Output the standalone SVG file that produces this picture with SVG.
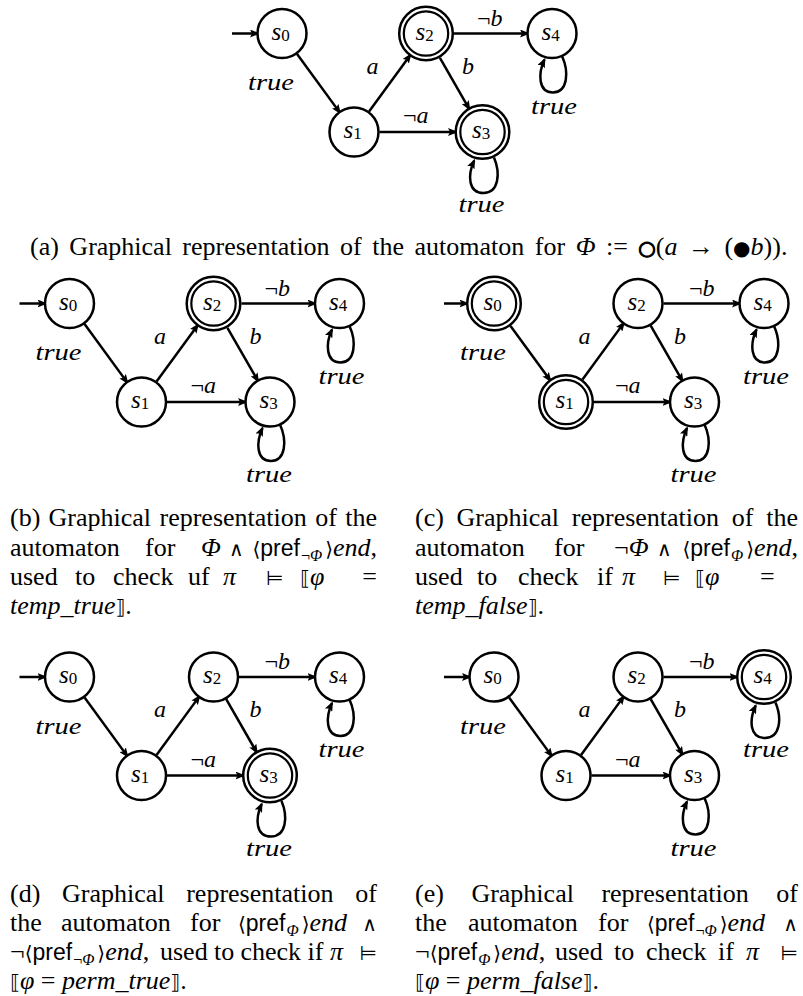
<svg xmlns="http://www.w3.org/2000/svg" width="803" height="996" viewBox="0 0 803 996">
<defs>
<marker id="ah" markerUnits="userSpaceOnUse" viewBox="0 0 10 8" markerWidth="10" markerHeight="8" refX="8" refY="4" orient="auto">
<path d="M0,0 L10,4 L0,8 L2,4 Z" fill="#000"/>
</marker>
<style>
.st{fill:#fff;stroke:#000;stroke-width:2.5}
.dbl{fill:none;stroke:#000;stroke-width:2.2}
.e{fill:none;stroke:#000;stroke-width:2.5;marker-end:url(#ah)}
.m{font-family:"Liberation Serif","DejaVu Serif",serif;font-style:italic;font-size:24px;fill:#000}
.n{font-style:normal}
.nl{font-family:"Liberation Serif","DejaVu Serif",serif;font-style:italic;font-size:25px;fill:#000}
.sub{font-style:normal;font-size:17px}
.cap{font-family:"Liberation Serif","DejaVu Serif","DejaVu Sans",serif;font-size:26px;fill:#000}
.i{font-style:italic}
.sf{font-family:"Liberation Sans","DejaVu Sans",sans-serif;font-size:23px;font-style:normal}
.sy{font-family:"DejaVu Sans",sans-serif;font-size:20px;font-style:normal}
.sb{font-size:16px}
.r{text-anchor:end}
</style>
</defs>
<rect width="803" height="996" fill="#fff"/>

<!-- (a) -->
<g id="diagram-a" transform="translate(282 33.5)">
<g id="a-connectors">
<path class="e" d="M-50,0 H-24"/>
<path class="e" d="M15.05,20.59 L57.84,79.12"/>
<path class="e" d="M87.05,77.91 L128.36,21.4"/>
<path class="e" d="M157.93,24.29 L187.31,75.51"/>
<path class="e" d="M97.5,98.5 H174"/>
<path class="e" d="M172,0 H246"/>
<path class="e" transform="translate(270 0)" d="M10,22.5 C17,38 16,59 1,59 C-14,59 -14,40 -7.5,26"/>
<path class="e" transform="translate(200.5 98.5)" d="M11.5,25.5 C18,41 16.5,61 1,61 C-14.5,61 -15,43 -8.3,28.5"/>
<text class="m" x="-34" y="56.7" textLength="46" lengthAdjust="spacingAndGlyphs">true</text>
<text class="m" x="90.5" y="40" text-anchor="middle">a</text>
<text class="m" x="186" y="40" text-anchor="middle">b</text>
<text class="m" x="195" y="-8"><tspan class="n">¬</tspan>b</text>
<text class="m" x="121" y="89.5"><tspan class="n">¬</tspan>a</text>
<text class="m" x="249" y="80" textLength="46" lengthAdjust="spacingAndGlyphs">true</text>
<text class="m" x="176.5" y="178.5" textLength="46" lengthAdjust="spacingAndGlyphs">true</text>
</g>
<g id="a-s0"><circle class="st" r="24.5"/><text class="nl" x="-10.5" y="6">s<tspan class="sub" dy="1">0</tspan></text></g>
<g id="a-s1" transform="translate(72 98.5)"><circle class="st" r="24.5"/><text class="nl" x="-10.5" y="6">s<tspan class="sub" dy="1">1</tspan></text></g>
<g id="a-s2" transform="translate(144 0)"><circle class="st" r="26.8"/><circle class="dbl" r="22.2"/><text class="nl" x="-10.5" y="6">s<tspan class="sub" dy="1">2</tspan></text></g>
<g id="a-s3" transform="translate(200.5 98.5)"><circle class="st" r="26.8"/><circle class="dbl" r="22.2"/><text class="nl" x="-10.5" y="6">s<tspan class="sub" dy="1">3</tspan></text></g>
<g id="a-s4" transform="translate(270 0)"><circle class="st" r="24.5"/><text class="nl" x="-10.5" y="6">s<tspan class="sub" dy="1">4</tspan></text></g>
</g>
<g id="cap-a" class="cap">
<text x="30" y="255" word-spacing="4">(a) Graphical representation of the automaton for <tspan class="i">Φ</tspan> := <tspan class="sy" font-size="21" stroke="#000" stroke-width="1.1">○</tspan>(<tspan class="i">a</tspan> → (<tspan class="sy" font-size="21">●</tspan><tspan class="i">b</tspan>)).</text>
</g>

<!-- (b) -->
<g id="diagram-b" transform="translate(69.5 303.5)">
<g id="b-connectors">
<path class="e" d="M-50,0 H-24"/>
<path class="e" d="M15.05,20.59 L57.84,79.12"/>
<path class="e" d="M87.05,77.91 L128.36,21.4"/>
<path class="e" d="M157.93,24.29 L188.56,77.68"/>
<path class="e" d="M97.5,98.5 H176.5"/>
<path class="e" d="M172,0 H246"/>
<path class="e" transform="translate(270 0)" d="M10,22.5 C17,38 16,59 1,59 C-14,59 -14,40 -7.5,26"/>
<path class="e" transform="translate(200.5 98.5)" d="M10,22.5 C17,38 16,59 1,59 C-14,59 -14,40 -7.5,26"/>
<text class="m" x="-34" y="56.7" textLength="46" lengthAdjust="spacingAndGlyphs">true</text>
<text class="m" x="90.5" y="40" text-anchor="middle">a</text>
<text class="m" x="186" y="40" text-anchor="middle">b</text>
<text class="m" x="195" y="-8"><tspan class="n">¬</tspan>b</text>
<text class="m" x="121" y="89.5"><tspan class="n">¬</tspan>a</text>
<text class="m" x="249" y="80" textLength="46" lengthAdjust="spacingAndGlyphs">true</text>
<text class="m" x="176.5" y="178.5" textLength="46" lengthAdjust="spacingAndGlyphs">true</text>
</g>
<g id="b-s0"><circle class="st" r="24.5"/><text class="nl" x="-10.5" y="6">s<tspan class="sub" dy="1">0</tspan></text></g>
<g id="b-s1" transform="translate(72 98.5)"><circle class="st" r="24.5"/><text class="nl" x="-10.5" y="6">s<tspan class="sub" dy="1">1</tspan></text></g>
<g id="b-s2" transform="translate(144 0)"><circle class="st" r="26.8"/><circle class="dbl" r="22.2"/><text class="nl" x="-10.5" y="6">s<tspan class="sub" dy="1">2</tspan></text></g>
<g id="b-s3" transform="translate(200.5 98.5)"><circle class="st" r="24.5"/><text class="nl" x="-10.5" y="6">s<tspan class="sub" dy="1">3</tspan></text></g>
<g id="b-s4" transform="translate(270 0)"><circle class="st" r="24.5"/><text class="nl" x="-10.5" y="6">s<tspan class="sub" dy="1">4</tspan></text></g>
</g>
<g id="cap-b" class="cap">
<text y="526"><tspan x="10">(b)</tspan><tspan x="48.6">Graphical</tspan><tspan x="159.5">representation</tspan><tspan x="315.2">of</tspan><tspan x="345.2">the</tspan></text>
<text y="556"><tspan x="10">automaton</tspan><tspan x="145">for</tspan><tspan x="201" class="i">Φ</tspan><tspan x="229" class="sy">∧</tspan></text>
<text y="556" x="377" class="r"><tspan class="sy">⟨</tspan><tspan class="sf">pref</tspan><tspan class="sb" dy="5" dx="1">¬<tspan class="i">Φ</tspan></tspan><tspan class="sy" dy="-5" dx="3">⟩</tspan><tspan class="i">end</tspan>,</text>
<text y="585"><tspan x="10">used</tspan><tspan x="75">to</tspan><tspan x="113">check</tspan><tspan x="188">uf</tspan><tspan x="223" class="i">π</tspan><tspan x="266" class="sy">⊨</tspan><tspan x="300" class="sy">⟦</tspan><tspan class="i">φ</tspan></text>
<text y="585" x="377" class="r">=</text>
<text y="614"><tspan x="10" class="i">temp_true</tspan><tspan class="sy">⟧</tspan>.</text>
</g>

<!-- (c) -->
<g id="diagram-c" transform="translate(494 303.5)">
<g id="c-connectors">
<path class="e" d="M-50,0 H-26.5"/>
<path class="e" d="M16.53,22.61 L56.36,77.1"/>
<path class="e" d="M88.53,75.89 L129.84,19.38"/>
<path class="e" d="M156.69,22.12 L188.56,77.68"/>
<path class="e" d="M100,98.5 H176.5"/>
<path class="e" d="M169.5,0 H246"/>
<path class="e" transform="translate(270 0)" d="M10,22.5 C17,38 16,59 1,59 C-14,59 -14,40 -7.5,26"/>
<path class="e" transform="translate(200.5 98.5)" d="M10,22.5 C17,38 16,59 1,59 C-14,59 -14,40 -7.5,26"/>
<text class="m" x="-34" y="56.7" textLength="46" lengthAdjust="spacingAndGlyphs">true</text>
<text class="m" x="90.5" y="40" text-anchor="middle">a</text>
<text class="m" x="186" y="40" text-anchor="middle">b</text>
<text class="m" x="195" y="-8"><tspan class="n">¬</tspan>b</text>
<text class="m" x="121" y="89.5"><tspan class="n">¬</tspan>a</text>
<text class="m" x="249" y="80" textLength="46" lengthAdjust="spacingAndGlyphs">true</text>
<text class="m" x="176.5" y="178.5" textLength="46" lengthAdjust="spacingAndGlyphs">true</text>
</g>
<g id="c-s0"><circle class="st" r="26.8"/><circle class="dbl" r="22.2"/><text class="nl" x="-10.5" y="6">s<tspan class="sub" dy="1">0</tspan></text></g>
<g id="c-s1" transform="translate(72 98.5)"><circle class="st" r="26.8"/><circle class="dbl" r="22.2"/><text class="nl" x="-10.5" y="6">s<tspan class="sub" dy="1">1</tspan></text></g>
<g id="c-s2" transform="translate(144 0)"><circle class="st" r="24.5"/><text class="nl" x="-10.5" y="6">s<tspan class="sub" dy="1">2</tspan></text></g>
<g id="c-s3" transform="translate(200.5 98.5)"><circle class="st" r="24.5"/><text class="nl" x="-10.5" y="6">s<tspan class="sub" dy="1">3</tspan></text></g>
<g id="c-s4" transform="translate(270 0)"><circle class="st" r="24.5"/><text class="nl" x="-10.5" y="6">s<tspan class="sub" dy="1">4</tspan></text></g>
</g>
<g id="cap-c" class="cap">
<text y="526"><tspan x="415">(c)</tspan><tspan x="456.6">Graphical</tspan><tspan x="571.8">representation</tspan><tspan x="731.8">of</tspan><tspan x="766.2">the</tspan></text>
<text y="556"><tspan x="415">automaton</tspan><tspan x="554">for</tspan><tspan x="614">¬</tspan><tspan class="i">Φ</tspan><tspan x="657" class="sy">∧</tspan></text>
<text y="556" x="798" class="r"><tspan class="sy">⟨</tspan><tspan class="sf">pref</tspan><tspan class="sb i" dy="5" dx="1">Φ</tspan><tspan class="sy" dy="-5" dx="3">⟩</tspan><tspan class="i">end</tspan>,</text>
<text y="585"><tspan x="415">used</tspan><tspan x="477">to</tspan><tspan x="518">check</tspan><tspan x="597">if</tspan><tspan x="622" class="i">π</tspan><tspan x="663" class="sy">⊨</tspan><tspan x="695" class="sy">⟦</tspan><tspan class="i">φ</tspan><tspan x="760">=</tspan></text>
<text y="614"><tspan x="415" class="i">temp_false</tspan><tspan class="sy">⟧</tspan>.</text>
</g>

<!-- (d) -->
<g id="diagram-d" transform="translate(69.5 677)">
<g id="d-connectors">
<path class="e" d="M-50,0 H-24"/>
<path class="e" d="M15.05,20.59 L57.84,79.12"/>
<path class="e" d="M87.05,77.91 L129.84,19.38"/>
<path class="e" d="M156.69,22.12 L187.31,75.51"/>
<path class="e" d="M97.5,98.5 H174"/>
<path class="e" d="M169.5,0 H246"/>
<path class="e" transform="translate(270 0)" d="M10,22.5 C17,38 16,59 1,59 C-14,59 -14,40 -7.5,26"/>
<path class="e" transform="translate(200.5 98.5)" d="M11.5,25.5 C18,41 16.5,61 1,61 C-14.5,61 -15,43 -8.3,28.5"/>
<text class="m" x="-34" y="56.7" textLength="46" lengthAdjust="spacingAndGlyphs">true</text>
<text class="m" x="90.5" y="40" text-anchor="middle">a</text>
<text class="m" x="186" y="40" text-anchor="middle">b</text>
<text class="m" x="195" y="-8"><tspan class="n">¬</tspan>b</text>
<text class="m" x="121" y="89.5"><tspan class="n">¬</tspan>a</text>
<text class="m" x="249" y="80" textLength="46" lengthAdjust="spacingAndGlyphs">true</text>
<text class="m" x="176.5" y="178.5" textLength="46" lengthAdjust="spacingAndGlyphs">true</text>
</g>
<g id="d-s0"><circle class="st" r="24.5"/><text class="nl" x="-10.5" y="6">s<tspan class="sub" dy="1">0</tspan></text></g>
<g id="d-s1" transform="translate(72 98.5)"><circle class="st" r="24.5"/><text class="nl" x="-10.5" y="6">s<tspan class="sub" dy="1">1</tspan></text></g>
<g id="d-s2" transform="translate(144 0)"><circle class="st" r="24.5"/><text class="nl" x="-10.5" y="6">s<tspan class="sub" dy="1">2</tspan></text></g>
<g id="d-s3" transform="translate(200.5 98.5)"><circle class="st" r="26.8"/><circle class="dbl" r="22.2"/><text class="nl" x="-10.5" y="6">s<tspan class="sub" dy="1">3</tspan></text></g>
<g id="d-s4" transform="translate(270 0)"><circle class="st" r="24.5"/><text class="nl" x="-10.5" y="6">s<tspan class="sub" dy="1">4</tspan></text></g>
</g>
<g id="cap-d" class="cap">
<text y="902"><tspan x="10">(d)</tspan><tspan x="62">Graphical</tspan><tspan x="186.2">representation</tspan></text>
<text y="902" x="377" class="r">of</text>
<text y="931"><tspan x="10">the</tspan><tspan x="61">automaton</tspan><tspan x="190">for</tspan><tspan x="238" class="sy">⟨</tspan><tspan class="sf">pref</tspan><tspan class="sb i" dy="5" dx="1">Φ</tspan><tspan class="sy" dy="-5" dx="3">⟩</tspan><tspan class="i">end</tspan></text>
<text y="931" x="377" class="r"><tspan class="sy">∧</tspan></text>
<text y="960"><tspan x="10">¬</tspan><tspan class="sy">⟨</tspan><tspan class="sf">pref</tspan><tspan class="sb" dy="5" dx="1">¬<tspan class="i">Φ</tspan></tspan><tspan class="sy" dy="-5" dx="3">⟩</tspan><tspan class="i">end</tspan>,<tspan x="160">used</tspan><tspan x="214">to</tspan><tspan x="240.5">check</tspan><tspan x="307.5">if</tspan><tspan x="330" class="i">π</tspan></text>
<text y="960" x="377" class="r"><tspan class="sy">⊨</tspan></text>
<text y="989"><tspan x="10" class="sy">⟦</tspan><tspan class="i">φ</tspan> = <tspan class="i">perm_true</tspan><tspan class="sy">⟧</tspan>.</text>
</g>

<!-- (e) -->
<g id="diagram-e" transform="translate(494 677)">
<g id="e-connectors">
<path class="e" d="M-50,0 H-24"/>
<path class="e" d="M15.05,20.59 L57.84,79.12"/>
<path class="e" d="M87.05,77.91 L129.84,19.38"/>
<path class="e" d="M156.69,22.12 L188.56,77.68"/>
<path class="e" d="M97.5,98.5 H176.5"/>
<path class="e" d="M169.5,0 H243.5"/>
<path class="e" transform="translate(270 0)" d="M11.5,25.5 C18,41 16.5,61 1,61 C-14.5,61 -15,43 -8.3,28.5"/>
<path class="e" transform="translate(200.5 98.5)" d="M10,22.5 C17,38 16,59 1,59 C-14,59 -14,40 -7.5,26"/>
<text class="m" x="-34" y="56.7" textLength="46" lengthAdjust="spacingAndGlyphs">true</text>
<text class="m" x="90.5" y="40" text-anchor="middle">a</text>
<text class="m" x="186" y="40" text-anchor="middle">b</text>
<text class="m" x="195" y="-8"><tspan class="n">¬</tspan>b</text>
<text class="m" x="121" y="89.5"><tspan class="n">¬</tspan>a</text>
<text class="m" x="249" y="80" textLength="46" lengthAdjust="spacingAndGlyphs">true</text>
<text class="m" x="176.5" y="178.5" textLength="46" lengthAdjust="spacingAndGlyphs">true</text>
</g>
<g id="e-s0"><circle class="st" r="24.5"/><text class="nl" x="-10.5" y="6">s<tspan class="sub" dy="1">0</tspan></text></g>
<g id="e-s1" transform="translate(72 98.5)"><circle class="st" r="24.5"/><text class="nl" x="-10.5" y="6">s<tspan class="sub" dy="1">1</tspan></text></g>
<g id="e-s2" transform="translate(144 0)"><circle class="st" r="24.5"/><text class="nl" x="-10.5" y="6">s<tspan class="sub" dy="1">2</tspan></text></g>
<g id="e-s3" transform="translate(200.5 98.5)"><circle class="st" r="24.5"/><text class="nl" x="-10.5" y="6">s<tspan class="sub" dy="1">3</tspan></text></g>
<g id="e-s4" transform="translate(270 0)"><circle class="st" r="26.8"/><circle class="dbl" r="22.2"/><text class="nl" x="-10.5" y="6">s<tspan class="sub" dy="1">4</tspan></text></g>
</g>
<g id="cap-e" class="cap">
<text y="902"><tspan x="415">(e)</tspan><tspan x="471.4">Graphical</tspan><tspan x="601.4">representation</tspan></text>
<text y="902" x="798" class="r">of</text>
<text y="931"><tspan x="415">the</tspan><tspan x="468">automaton</tspan><tspan x="598">for</tspan><tspan x="647" class="sy">⟨</tspan><tspan class="sf">pref</tspan><tspan class="sb" dy="5" dx="1">¬<tspan class="i">Φ</tspan></tspan><tspan class="sy" dy="-5" dx="3">⟩</tspan><tspan class="i">end</tspan></text>
<text y="931" x="798" class="r"><tspan class="sy">∧</tspan></text>
<text y="960"><tspan x="415">¬</tspan><tspan class="sy">⟨</tspan><tspan class="sf">pref</tspan><tspan class="sb i" dy="5" dx="1">Φ</tspan><tspan class="sy" dy="-5" dx="3">⟩</tspan><tspan class="i">end</tspan>,<tspan x="555">used</tspan><tspan x="614">to</tspan><tspan x="646">check</tspan><tspan x="718">if</tspan><tspan x="746" class="i">π</tspan></text>
<text y="960" x="798" class="r"><tspan class="sy">⊨</tspan></text>
<text y="989"><tspan x="415" class="sy">⟦</tspan><tspan class="i">φ</tspan> = <tspan class="i">perm_false</tspan><tspan class="sy">⟧</tspan>.</text>
</g>
</svg>
